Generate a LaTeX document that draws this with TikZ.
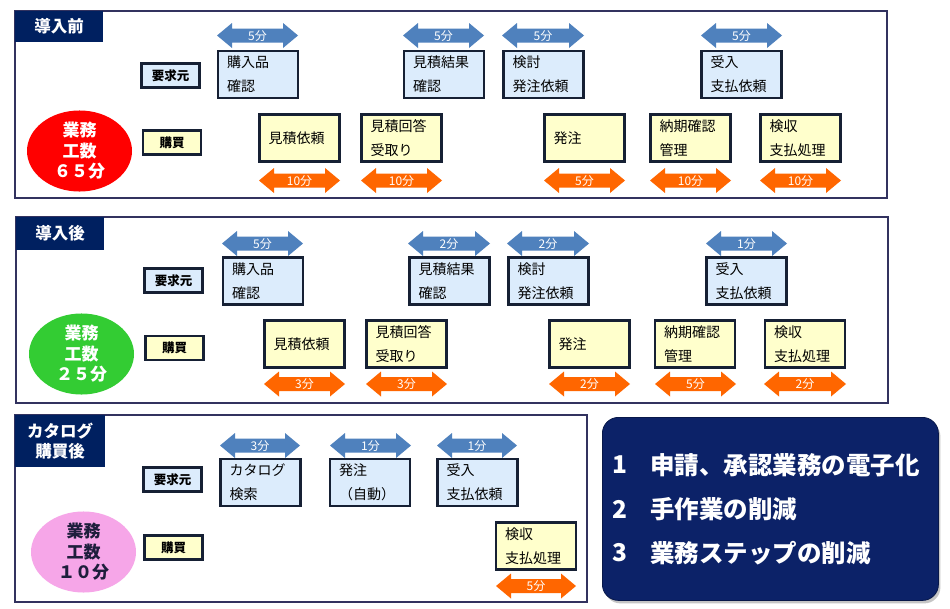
\documentclass[tikz,border=0pt]{standalone}
\usepackage{fontspec}
\newfontfamily\jpf{Noto Sans CJK JP}
\usetikzlibrary{shadows,shapes.geometric}
\definecolor{navy}{RGB}{0,32,96}
\definecolor{sumnavy}{RGB}{12,34,104}
\definecolor{boxline}{RGB}{22,32,52}
\definecolor{frameline}{RGB}{50,50,95}
\definecolor{lblue}{RGB}{220,236,252}
\definecolor{lyellow}{RGB}{255,255,204}
\definecolor{arrblue}{RGB}{79,129,189}
\definecolor{arrorange}{RGB}{255,102,0}
\definecolor{ellred}{RGB}{255,0,0}
\definecolor{ellgreen}{RGB}{51,204,51}
\definecolor{ellpink}{RGB}{246,166,232}
\definecolor{elltext}{RGB}{30,30,60}
\newcommand\dblarr[6]{%
  \fill[#4] ({#1},{#3}) -- ({#1+15},{#3-12.5}) -- ({#1+15},{#3-7}) -- ({#2-15},{#3-7}) -- ({#2-15},{#3-12.5}) -- ({#2},{#3}) -- ({#2-15},{#3+12.5}) -- ({#2-15},{#3+7}) -- ({#1+15},{#3+7}) -- ({#1+15},{#3+12.5}) -- cycle;
  \node[arrlabel] (#6) at ({(#1+#2)/2},{#3+0.5}) {#5};}
\tikzset{
  proc/.style={draw=boxline, line width=2.6pt, minimum width=80pt, minimum height=47pt,
    text width=62pt, inner xsep=9pt, inner ysep=0pt, align=left,
    font=\jpf\fontsize{14}{24}\selectfont, text=black},
  reqbox/.style={proc, fill=lblue},
  buybox/.style={proc, fill=lyellow},
  role/.style={draw=boxline, line width=2.2pt, minimum width=58pt, minimum height=24pt,
    inner sep=0pt, font=\jpf\bfseries\fontsize{12.5}{14}\selectfont},
  reqrole/.style={role, fill=lblue},
  buyrole/.style={role, fill=lyellow},
  frame/.style={draw=frameline, line width=1.6pt},
  tab/.style={fill=navy, text=white, anchor=north west, inner sep=0pt, align=center,
    font=\jpf\bfseries\fontsize{16.5}{20}\selectfont},
  ell/.style={ellipse, minimum width=105pt, minimum height=70pt, inner sep=0pt, align=center,
    font=\jpf\bfseries\fontsize{17}{20.5}\selectfont},
  arrlabel/.style={text=white, inner sep=0pt, font=\jpf\fontsize{12}{13}\selectfont},
  sumtext/.style={text=white, anchor=west, inner sep=0pt, font=\jpf\bfseries\fontsize{24.5}{28}\selectfont}
}
\begin{document}
\begin{tikzpicture}[x=1pt,y=-1pt]
\useasboundingbox (0,0) rectangle (950,608);
\fill[white] (0,0) rectangle (950,608);

% ---------------- Panel 1 ----------------
\draw[frame] (15,11) rectangle (887,198);
\node[tab, minimum width=88pt, minimum height=31pt] (t1) at (15,11) {導入前};
\node[reqrole] (p1req) at (170.5,75.5) {要求元};
\node[buyrole] (p1buy) at (172,142.5) {購買};
\node[ell, fill=ellred, text=white] (p1ell) at (79.5,151) {業務\\工数\\６５分};

\dblarr{217}{298}{35.5}{arrblue}{5分}{p1la}
\dblarr{403}{484}{35.5}{arrblue}{5分}{p1lb}
\dblarr{502}{584}{35.5}{arrblue}{5分}{p1lc}
\dblarr{701}{782}{35.5}{arrblue}{5分}{p1ld}
\node[reqbox] (p1a) at (258,74.5) {購入品\\確認};
\node[reqbox] (p1b) at (444,74.5) {見積結果\\確認};
\node[reqbox] (p1c) at (543.5,74.5) {検討\\発注依頼};
\node[reqbox] (p1d) at (741.5,74.5) {受入\\支払依頼};

\node[buybox] (p1e) at (299.5,138) {見積依頼};
\node[buybox] (p1f) at (401.5,138) {見積回答\\受取り};
\node[buybox] (p1g) at (584.5,138) {発注};
\node[buybox] (p1h) at (690.5,138) {納期確認\\管理};
\node[buybox] (p1i) at (800.5,138) {検収\\支払処理};
\dblarr{259}{340}{180.5}{arrorange}{10分}{p1le}
\dblarr{361}{442}{180.5}{arrorange}{10分}{p1lf}
\dblarr{544}{625}{180.5}{arrorange}{5分}{p1lg}
\dblarr{650}{731}{180.5}{arrorange}{10分}{p1lh}
\dblarr{760}{841}{180.5}{arrorange}{10分}{p1li}

% ---------------- Panel 2 ----------------
\draw[frame] (16,217) rectangle (888,403);
\node[tab, minimum width=88pt, minimum height=33pt] (t2) at (16,217) {導入後};
\node[reqrole] (p2req) at (173.5,280.5) {要求元};
\node[buyrole] (p2buy) at (174.5,348) {購買};
\node[ell, fill=ellgreen, text=white] (p2ell) at (81.5,354) {業務\\工数\\２５分};

\dblarr{222}{303}{243.5}{arrblue}{5分}{p2la}
\dblarr{408}{490}{243.5}{arrblue}{2分}{p2lb}
\dblarr{507}{589}{243.5}{arrblue}{2分}{p2lc}
\dblarr{706}{787}{243.5}{arrblue}{1分}{p2ld}
\node[reqbox] (p2a) at (263,281) {購入品\\確認};
\node[reqbox] (p2b) at (449.5,281) {見積結果\\確認};
\node[reqbox] (p2c) at (548.5,281) {検討\\発注依頼};
\node[reqbox] (p2d) at (746.5,281) {受入\\支払依頼};

\node[buybox] (p2e) at (304.5,344) {見積依頼};
\node[buybox] (p2f) at (406.5,344) {見積回答\\受取り};
\node[buybox] (p2g) at (589.5,344) {発注};
\node[buybox] (p2h) at (695,344) {納期確認\\管理};
\node[buybox] (p2i) at (805,344) {検収\\支払処理};
\dblarr{264}{345}{384}{arrorange}{3分}{p2le}
\dblarr{366}{447}{384}{arrorange}{3分}{p2lf}
\dblarr{549}{630}{384}{arrorange}{2分}{p2lg}
\dblarr{655}{736}{384}{arrorange}{5分}{p2lh}
\dblarr{764}{846}{384}{arrorange}{2分}{p2li}

% ---------------- Panel 3 ----------------
\draw[frame] (15,415) rectangle (587,602);
\node[tab, minimum width=90pt, minimum height=52pt] (t3) at (15,415) {カタログ\\購買後};
\node[reqrole] (p3req) at (172.5,479.5) {要求元};
\node[buyrole] (p3buy) at (173.5,547.5) {購買};
\node[ell, fill=ellpink, text=elltext] (p3ell) at (83.5,552) {業務\\工数\\１０分};

\dblarr{220}{300}{445.5}{arrblue}{3分}{p3la}
\dblarr{330}{411}{445.5}{arrblue}{1分}{p3lb}
\dblarr{437}{517}{445.5}{arrblue}{1分}{p3lc}
\node[reqbox] (p3a) at (260.5,482.5) {カタログ\\検索};
\node[reqbox] (p3b) at (370,482.5) {発注\\（自動）};
\node[reqbox] (p3c) at (477.5,482.5) {受入\\支払依頼};

\node[buybox] (p3i) at (536,546) {検収\\支払処理};
\dblarr{496}{576}{586}{arrorange}{5分}{p3li}

% ---------------- Summary ----------------
\node[fill=sumnavy, draw=sumnavy!70!black, line width=0.8pt, rounded corners=16pt,
  minimum width=336pt, minimum height=183pt, anchor=north west,
  drop shadow={opacity=0.45, shadow xshift=2pt, shadow yshift=-3pt}] (sum) at (602,417) {};
\node[sumtext] (s1n) at (612,465) {1};
\node[sumtext] (s1) at (650,465) {申請、承認業務の電子化};
\node[sumtext] (s2n) at (612,509) {2};
\node[sumtext] (s2) at (650,509) {手作業の削減};
\node[sumtext] (s3n) at (612,553) {3};
\node[sumtext] (s3) at (650,553) {業務ステップの削減};
\end{tikzpicture}
\end{document}
